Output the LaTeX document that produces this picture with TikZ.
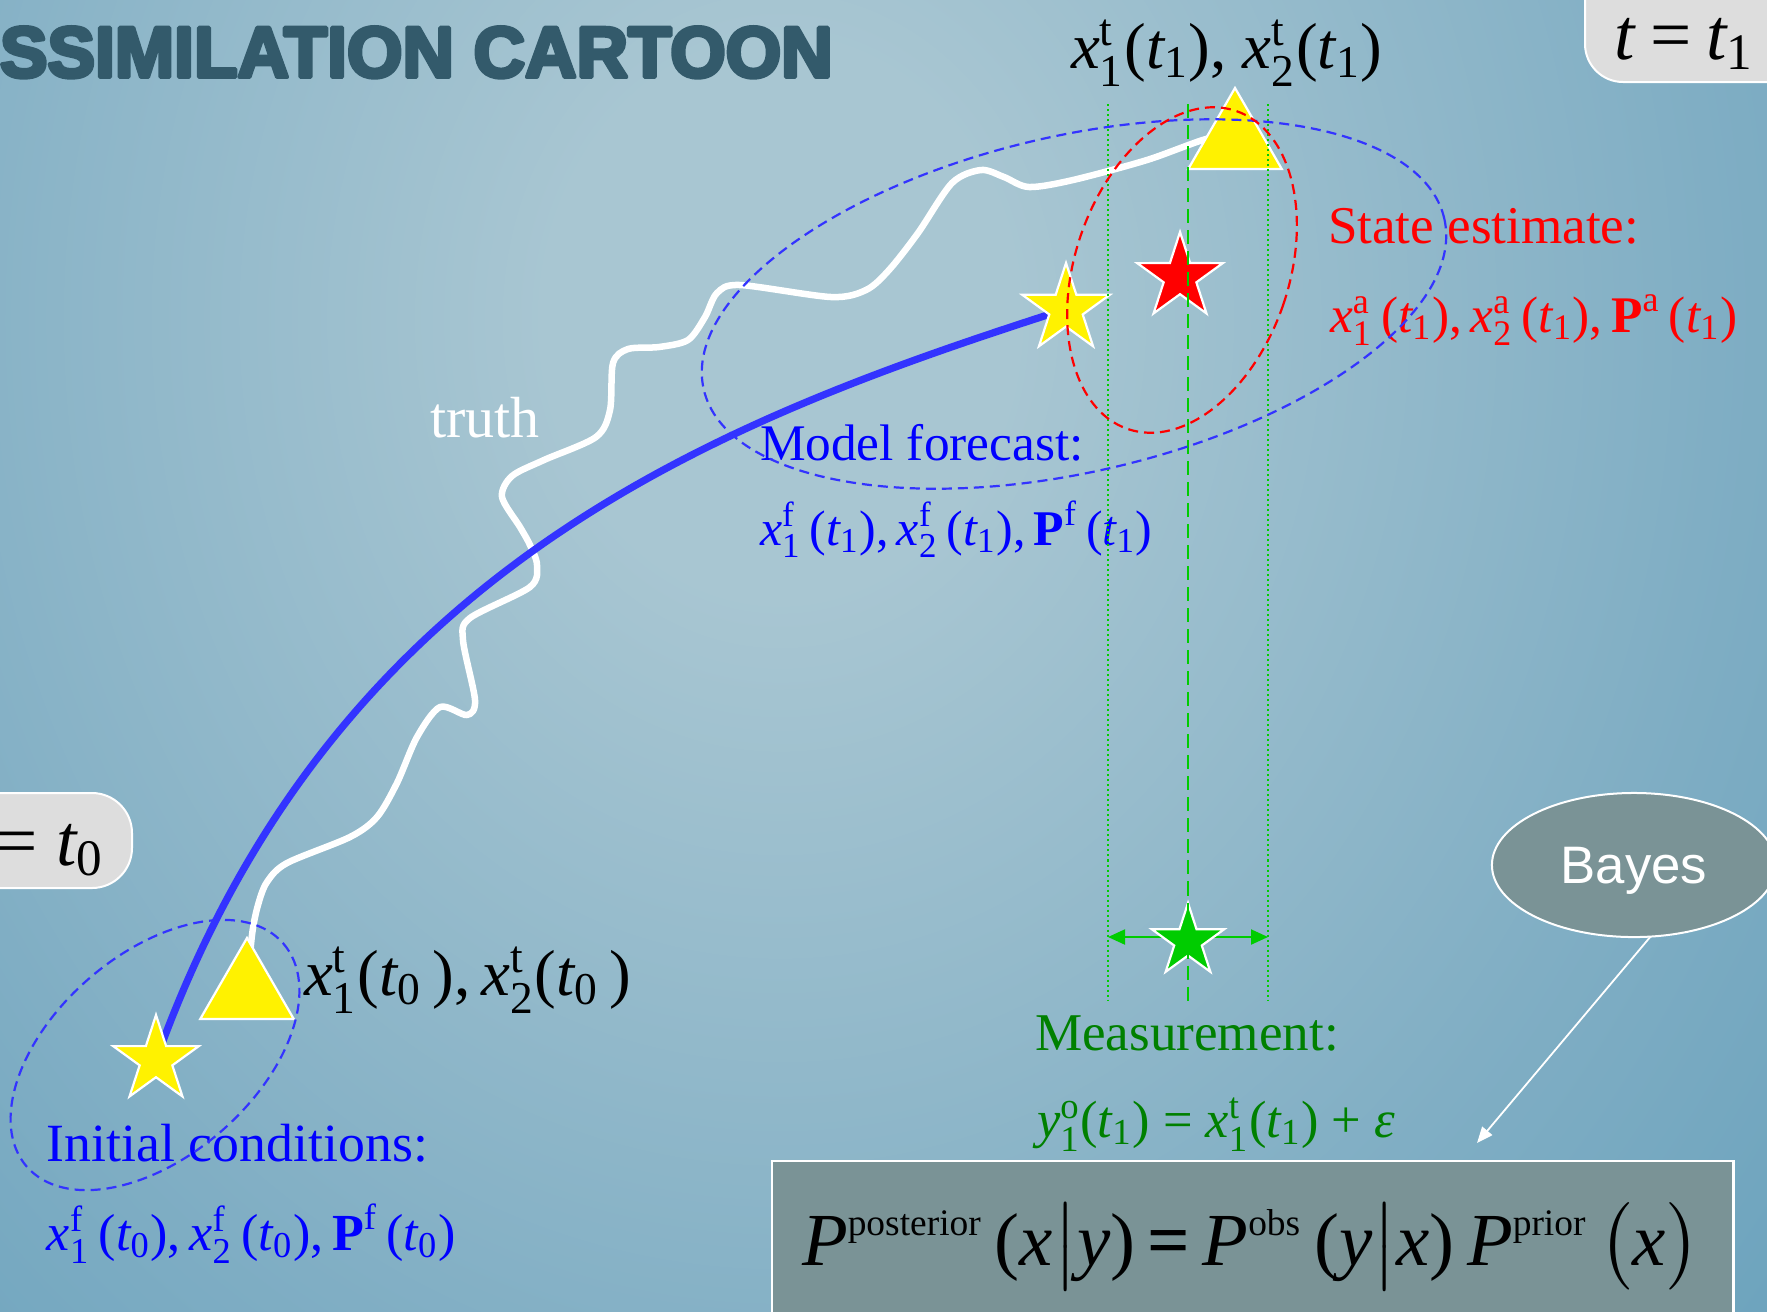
\documentclass[tikz,border=0pt]{standalone}
\usepackage{fontspec}
\usepackage{amsmath}
\setmainfont{Liberation Serif}
\newfontfamily\sansfont{Liberation Sans}
\newfontfamily\titlefont{Liberation Sans}
\usetikzlibrary{shapes.geometric,arrows.meta}
\pgfdeclarelayer{bgl}
\pgfdeclarelayer{curves}
\pgfdeclarelayer{top}
\pgfsetlayers{bgl,curves,main,top}
\definecolor{bgin}{RGB}{168,198,210}
\definecolor{bgmid}{RGB}{128,174,196}
\definecolor{bgout}{RGB}{84,150,181}
\definecolor{titlec}{RGB}{51,90,107}
\definecolor{traj}{RGB}{51,51,255}
\definecolor{mgreen}{RGB}{0,204,0}
\definecolor{tgreen}{RGB}{0,128,0}
\definecolor{boxgray}{RGB}{122,147,150}
\definecolor{tbox}{RGB}{221,221,221}
\pgfdeclareradialshading{bgshade}{\pgfpoint{0bp}{0bp}}{color(0bp)=(bgin); color(3bp)=(bgin); color(12bp)=(bgmid); color(23bp)=(bgout); color(50bp)=(bgout)}
\newcommand{\fs}[1]{\fontsize{#1}{#1}\selectfont}
\newcommand{\sv}[3]{\ensuremath{\textit{#1}^{\text{#2}}_{\text{#3}}}}
\newcommand{\tv}[1]{\ensuremath{\textit{t}_{\text{#1}}}}
\newcommand{\Pv}[1]{\ensuremath{\textbf{P}^{\text{#1}}}}
\newcommand{\heavytext}[1]{\special{pdf:literal direct 2 Tr 0.55 w 1 j}#1\special{pdf:literal direct 0 Tr 0 j}}
\begin{document}
\begin{tikzpicture}[x=0.01cm, y=-0.01cm,
  every node/.style={inner sep=0pt, outer sep=0pt},
  starshape/.style={star, star points=5, star point ratio=2.618, inner sep=0pt, draw=white, line width=0.022cm, minimum size=#1},
  trishape/.style={regular polygon, regular polygon sides=3, inner sep=0pt, draw=white, line width=0.022cm, fill=yellow, minimum size=1.08cm},
  lbl/.style={anchor=base west, inner sep=0pt},
  dashell/.style={dash pattern=on 0.1cm off 0.06cm, line width=0.022cm},
  dotline/.style={mgreen, line width=0.02cm, dash pattern=on 0.02cm off 0.03cm},
  dashline/.style={mgreen, line width=0.028cm, dash pattern=on 0.14cm off 0.07cm}]
\useasboundingbox (0,0) rectangle (1767,1311);
\begin{pgfonlayer}{bgl}
\fill[bgout] (0,0) rectangle (1767,1311);
\begin{scope}
\clip (0,0) rectangle (1767,1311);
\shade[shading=bgshade] (780,320) ellipse [x radius=1950, y radius=2300];
\end{scope}
\end{pgfonlayer}

% title
\node[anchor=base west, text=titlec] (title) at (0,77) {\resizebox{8.32cm}{0.50cm}{\titlefont\bfseries\heavytext{SSIMILATION CARTOON}}};

% time boxes
\draw[fill=tbox, draw=white, line width=0.02cm, rounded corners=0.38cm] (1585,-80) rectangle (1880,82);
\node[lbl] (t1lbl) at (1614,59) {\fs{20.8pt}\textit{t}\hspace{0.2em}=\hspace{0.2em}\tv{1}};
\draw[fill=tbox, draw=white, line width=0.02cm, rounded corners=0.4cm] (-100,793) rectangle (132,888);
\node[anchor=base east] (t0lbl) at (104,865) {\fs{20.8pt}\textit{t}\hspace{0.2em}=\hspace{0.25em}\tv{0}};

% triangles and stars
\node[trishape] (tr1) at (247,992) {};
\node[trishape] (tr2) at (1235,142) {};
\node[starshape=0.90cm, fill=yellow] (s1) at (156,1060) {};
\node[starshape=0.92cm, fill=yellow] (s2) at (1066,309) {};
\node[starshape=0.90cm, fill=red] (s3) at (1180,277) {};
\node[starshape=0.76cm, fill=mgreen] (s4) at (1188,941) {};

% labels
\node[lbl] (xt1) at (1071,68) {\fs{18.5pt}\sv{x}{t}{1}(\tv{1}), \sv{x}{t}{2}(\tv{1})};
\node[lbl] (xt0) at (304,995) {\fs{18.5pt}\sv{x}{t}{1}(\tv{0}\,),\,\sv{x}{t}{2}(\tv{0}\,)};
\node[lbl, text=white] (truth) at (430,437) {\fs{16.5pt}truth};
\node[lbl, text=blue] (mf) at (760,460) {\fs{14.6pt}Model forecast:};
\node[lbl, text=blue] (mfx) at (760,545) {\fs{14.2pt}\sv{x}{f}{1}\,(\tv{1}),\,\sv{x}{f}{2}\,(\tv{1}),\,\Pv{f}\,(\tv{1})};
\node[lbl, text=red] (se) at (1328,243) {\fs{15.1pt}State estimate:};
\node[lbl, text=red] (sex) at (1330,332) {\fs{14.6pt}\sv{x}{a}{1}\,(\tv{1}),\,\sv{x}{a}{2}\,(\tv{1}),\,\Pv{a}\,(\tv{1})};
\node[lbl, text=blue] (ic) at (47,1161) {\fs{15.3pt}Initial conditions:};
\node[lbl, text=blue] (icx) at (47,1250) {\fs{14.8pt}\sv{x}{f}{1}\,(\tv{0}),\,\sv{x}{f}{2}\,(\tv{0}),\,\Pv{f}\,(\tv{0})};
\node[lbl, text=tgreen] (ms) at (1035,1050) {\fs{15.1pt}Measurement:};
\node[lbl, text=tgreen] (msx) at (1037,1137) {\fs{14.9pt}\sv{y}{o}{1}(\tv{1}) = \sv{x}{t}{1}(\tv{1}) + \textit{ε}};

% Bayes
\node[ellipse, fill=boxgray, draw=white, line width=0.02cm, minimum width=2.84cm, minimum height=1.44cm, text=white, text depth=0pt, font=\sansfont\fs{15pt}] (bayes) at (1634,865) {Bayes};
\coordinate (btip) at (1477,1143);
\draw[white, line width=0.018cm, -{Triangle[length=0.16cm, width=0.13cm]}] (bayes.-77.5) -- (btip);
\node[draw=white, fill=boxgray, line width=0.025cm, anchor=north west, minimum width=9.61cm, minimum height=2cm] (pbox) at (772,1161) {};
\node[lbl] (bayesf) at (802,1265) {\fs{21.3pt}$\textit{P}^{\scriptscriptstyle\text{posterior}}\,\text{(}\textit{x}\big|\textit{y}\text{)}\mskip3mu\text{\bfseries =}\mskip3mu\textit{P}^{\scriptscriptstyle\text{obs}}\,\text{(}\textit{y}\big|\textit{x}\text{)}\,\textit{P}^{\scriptscriptstyle\text{prior}}\,\bigl(\textit{x}\bigr)$};

% curves
\begin{pgfonlayer}{curves}
\draw[white, line width=0.065cm, line cap=round, line join=round] plot[smooth, tension=0.5] coordinates {(tr1.center) (252,935) (258,905) (267,882) (287,863) (350,837) (377,817) (397,783) (417,737) (440,707) (467,715) (475,700) (463,640) (470,618) (530,587) (537,565) (530,545) (520,527) (502,497) (512,476) (544,460) (596,437) (610,410) (613,363) (628,349) (659,347) (688,340) (705,317) (717,293) (740,285) (831,297) (866,290) (889,270) (918,233) (952,183) (981,170) (1004,177) (1029,187) (1073,180) (1147,160) (1210,138) (tr2.center)};
\draw[traj, line width=0.072cm] (s1.center) .. controls (333,565) and (720,420) .. (s2.center);
\coordinate (mL) at (1108,937);
\coordinate (mR) at (1268,937);
\draw[mgreen, line width=0.02cm, {Triangle[length=0.17cm,width=0.15cm]}-{Triangle[length=0.17cm,width=0.15cm]}] (mL) -- (mR);
\end{pgfonlayer}

% top layer: guide lines and uncertainty ellipses
\begin{pgfonlayer}{top}
\coordinate (v1t) at (1108,104); \coordinate (v1b) at (1108,1001);
\coordinate (v2t) at (1188,104); \coordinate (v2b) at (1188,1001);
\coordinate (v3t) at (1268,104); \coordinate (v3b) at (1268,1001);
\draw[dotline] (v1t) -- (v1b);
\draw[dotline] (v3t) -- (v3b);
\draw[dashline] (v2t) -- (v2b);
\draw[traj, dashell, rotate around={41:(155,1055)}] (155,1055) ellipse [x radius=170, y radius=101];
\draw[traj, dashell, rotate around={13:(1074,304)}] (1074,304) ellipse [x radius=380, y radius=168];
\draw[red, dashell, rotate around={-18.8:(1182,270)}] (1182,270) ellipse [x radius=107, y radius=168];
\end{pgfonlayer}
\end{tikzpicture}
\end{document}
